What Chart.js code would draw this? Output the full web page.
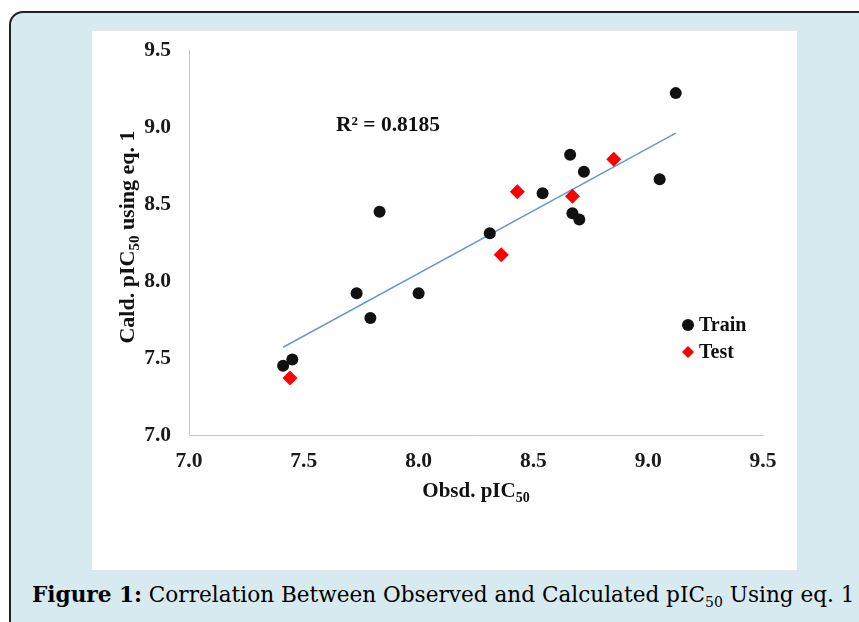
<!DOCTYPE html>
<html>
<head>
<meta charset="utf-8">
<script src="https://cdn.jsdelivr.net/npm/chart.js@4/dist/chart.umd.min.js"></script>
<style>
  html, body { margin: 0; padding: 0; background: #fff; width: 859px; height: 622px; overflow: hidden; }
  #frame {
    position: absolute; left: 9px; top: 11px; width: 900px; height: 650px;
    background: #d6eaf0; border: 2px solid #222; border-radius: 14px; box-sizing: border-box;
  }
  #panel {
    position: absolute; left: 92px; top: 31px; width: 705px; height: 539px;
    background: #fff; outline: 1px solid #e2e6e8;
  }
  #caption {
    position: absolute; left: 32px; top: 582px; white-space: nowrap;
    font-family: 'DejaVu Serif', serif; font-size: 21.6px; color: #000;
  }
  #caption sub { font-size: 14px; }
</style>
</head>
<body>
<div id="frame"></div>
<div id="panel"><canvas id="chart" width="705" height="539"></canvas></div>
<div id="caption"><b>Figure 1:</b> Correlation Between Observed and Calculated pIC<sub>50</sub> Using eq. 1</div>
<script>
const trainObs  = [9.12, 8.66, 8.72, 8.54, 9.05, 8.67, 8.70, 7.83, 8.31, 7.73, 8.00, 7.79, 7.41, 7.45];
const trainCalc = [9.22, 8.82, 8.71, 8.57, 8.66, 8.44, 8.40, 8.45, 8.31, 7.92, 7.92, 7.76, 7.45, 7.49];
const testObs   = [7.44, 8.36, 8.43, 8.67, 8.85];
const testCalc  = [7.37, 8.17, 8.58, 8.55, 8.79];
// trend line end points
const fitX = [7.41, 9.12];
const fitY = [7.57, 8.96];
const axisTicks = [7.0, 7.5, 8.0, 8.5, 9.0, 9.5];
const r2Label = 'R² = 0.8185';

const SERIF = "'Liberation Serif', 'Times New Roman', serif";
const toPts = (xs, ys) => xs.map((x, i) => ({ x: x, y: ys[i] }));

// centred text with a subscript part
function textWithSub(ctx, main, sub, tail, x, y, size) {
  const big = 'bold ' + size + 'px ' + SERIF;
  const small = 'bold ' + Math.round(size * 0.68) + 'px ' + SERIF;
  ctx.font = big;
  const w1 = ctx.measureText(main).width, w3 = ctx.measureText(tail).width;
  ctx.font = small;
  const w2 = ctx.measureText(sub).width;
  let cx = x - (w1 + w2 + w3) / 2;
  ctx.textAlign = 'left';
  ctx.textBaseline = 'alphabetic';
  ctx.font = big;
  ctx.fillText(main, cx, y);
  cx += w1;
  ctx.font = small;
  ctx.fillText(sub, cx, y + size * 0.22);
  cx += w2;
  ctx.font = big;
  ctx.fillText(tail, cx, y);
}

const extras = {
  id: 'extras',
  afterDraw(chart) {
    const ctx = chart.ctx;
    const xs = chart.scales.x, ys = chart.scales.y;
    ctx.save();
    ctx.fillStyle = '#111';

    // R squared
    ctx.font = 'bold 21.5px ' + SERIF;
    ctx.textAlign = 'left';
    ctx.textBaseline = 'middle';
    ctx.fillText(r2Label, xs.getPixelForValue(7.64), ys.getPixelForValue(9.01));

    // axis titles
    textWithSub(ctx, 'Obsd. pIC', '50', '', 384, 466, 21);
    ctx.save();
    ctx.translate(42, 206);
    ctx.rotate(-Math.PI / 2);
    textWithSub(ctx, 'Cald. pIC', '50', ' using eq. 1', 0, 0, 22);
    ctx.restore();

    // legend
    const lx = 596, ly1 = 294, ly2 = 321;
    ctx.beginPath();
    ctx.arc(lx, ly1, 6, 0, Math.PI * 2);
    ctx.fillStyle = '#111';
    ctx.fill();
    ctx.beginPath();
    ctx.moveTo(lx, ly2 - 6); ctx.lineTo(lx + 6, ly2); ctx.lineTo(lx, ly2 + 6); ctx.lineTo(lx - 6, ly2);
    ctx.closePath();
    ctx.fillStyle = '#ff0000';
    ctx.fill();
    ctx.fillStyle = '#111';
    ctx.font = 'bold 20px ' + SERIF;
    ctx.textAlign = 'left';
    ctx.textBaseline = 'middle';
    ctx.fillText('Train', lx + 11, ly1 + 1);
    ctx.fillText('Test', lx + 11, ly2 + 1);
    ctx.restore();
  }
};

const axisCommon = {
  type: 'linear',
  min: 7, max: 9.5,
  afterBuildTicks: (s) => { s.ticks = axisTicks.map(v => ({ value: v })); },
  grid: { display: false, drawTicks: false },
  border: { display: true, color: '#c8c8c8', width: 1 },
  ticks: {
    color: '#1a1a1a',
    font: { family: SERIF, size: 21.5, weight: 'bold' },
    callback: (v) => Number(v).toFixed(1)
  }
};

new Chart(document.getElementById('chart'), {
  type: 'scatter',
  data: {
    datasets: [
      {
        label: 'Train',
        data: toPts(trainObs, trainCalc),
        pointStyle: 'circle',
        pointRadius: 6,
        backgroundColor: '#111',
        borderColor: '#111',
        borderWidth: 0
      },
      {
        label: 'Test',
        data: toPts(testObs, testCalc),
        pointStyle: 'rectRot',
        pointRadius: 7.5,
        backgroundColor: '#ff0000',
        borderColor: '#ff0000',
        borderWidth: 0
      },
      {
        type: 'line',
        label: 'fit',
        data: toPts(fitX, fitY),
        borderColor: '#6a98cf',
        borderWidth: 1.5,
        pointRadius: 0,
        fill: false
      }
    ]
  },
  options: {
    responsive: false,
    animation: false,
    layout: { padding: { left: 0, top: 19, right: 34, bottom: 0 } },
    plugins: { legend: { display: false }, tooltip: { enabled: false } },
    scales: {
      x: Object.assign({}, axisCommon, {
        position: 'bottom',
        ticks: Object.assign({}, axisCommon.ticks, { padding: 14, maxRotation: 0 }),
        afterFit: (s) => { s.height = 135; s.paddingLeft = 0; s.paddingRight = 0; }
      }),
      y: Object.assign({}, axisCommon, {
        position: 'left',
        ticks: Object.assign({}, axisCommon.ticks, { padding: 18 }),
        afterFit: (s) => { s.width = 97; s.paddingTop = 0; s.paddingBottom = 0; }
      })
    }
  },
  plugins: [extras]
});
</script>
</body>
</html>
